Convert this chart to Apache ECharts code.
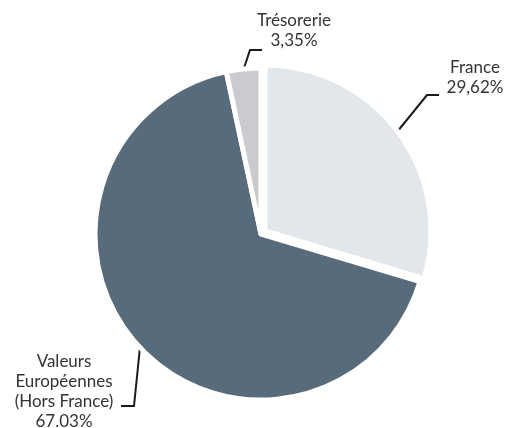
<!DOCTYPE html>
<html>
<head>
<meta charset="utf-8">
<script src="https://cdn.jsdelivr.net/npm/echarts@6/dist/echarts.min.js"></script>
<style>
  html, body {margin: 0; padding: 0; background: #fff;}
  #chart {width: 509px; height: 428px;}
</style>
</head>
<body>
<div id="chart"></div>
<script>
const names = ['France', 'Valeurs\nEuropéennes\n(Hors France)', 'Trésorerie']
const values = [29.62, 67.03, 3.35]
const valueLabels = ['29,62%', '67.03%', '3,35%']
const colors = ['#e2e7eb', '#576b7b', '#cacbce']

// where each label sits, and its leader line (px)
const labelSpots = [
  {x: 475, y: 78, line: [[397, 132], [427, 95], [439, 95]]},
  {x: 64, y: 392, line: [[140, 347], [134, 406], [121, 406]]},
  {x: 294, y: 31, line: [[244, 68], [250, 50], [262, 50]]}
]

const cx = 261, cy = 234, pulled = 0, pullDist = 5
// France slice is pulled out a bit along its middle angle
const total = values.reduce((a, b) => a + b, 0)
const midAng = Math.PI / 2 - (values[pulled] / total) * Math.PI
const pullX = Math.cos(midAng) * pullDist
const pullY = -Math.sin(midAng) * pullDist

function pieSeries(center, showIdx) {
  return {
    type: 'pie',
    center: center,
    radius: 166,
    startAngle: 90,
    clockwise: true,
    silent: true,
    emphasis: {disabled: true},
    label: {
      show: true,
      position: 'outside',
      fontFamily: 'Lato',
      fontSize: 17,
      lineHeight: 20,
      color: '#333',
      align: 'center',
      overflow: 'none',
      width: 130,
      formatter: p => names[p.dataIndex] + '\n' + valueLabels[p.dataIndex]
    },
    labelLine: {show: true, lineStyle: {color: '#1a1a1a', width: 2}},
    labelLayout: p => {
      const s = labelSpots[p.dataIndex]
      return {x: s.x, y: s.y, align: 'center', verticalAlign: 'middle', labelLinePoints: s.line}
    },
    data: values.map((v, i) => {
      const on = showIdx(i)
      return {
        name: names[i],
        value: v,
        itemStyle: on
          ? {color: colors[i], borderColor: '#fff', borderWidth: 5}
          : {color: 'rgba(0,0,0,0)', borderWidth: 0},
        label: {show: on},
        labelLine: {show: on}
      }
    })
  }
}

const chart = echarts.init(document.getElementById('chart'))
chart.setOption({
  animation: false,
  series: [
    pieSeries([cx, cy], i => i !== pulled),
    pieSeries([cx + pullX, cy + pullY], i => i === pulled)
  ]
})
</script>
</body>
</html>
